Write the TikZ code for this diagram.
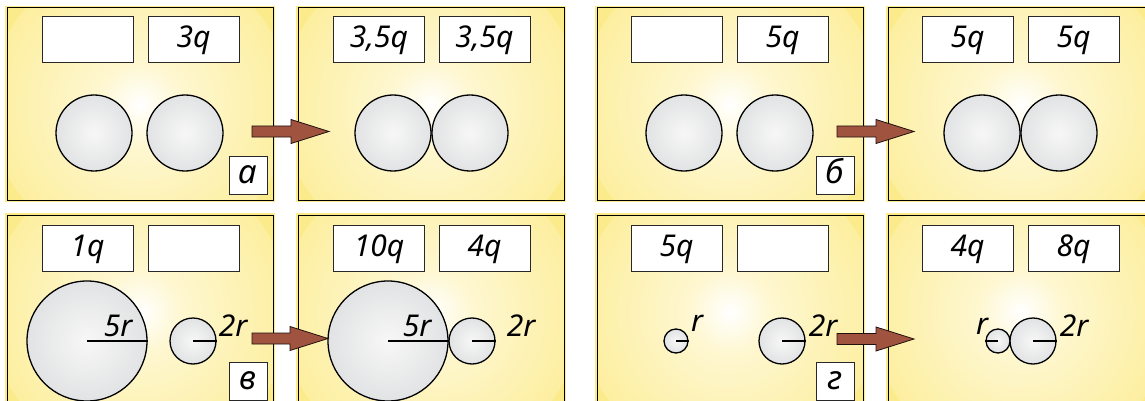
\documentclass[tikz,border=0pt]{standalone}
\usepackage{fontspec}
\setmainfont{Noto Sans}
\definecolor{panelyellow}{RGB}{252,235,138}
\colorlet{glowmid}{white!60!panelyellow}
\definecolor{ballin}{RGB}{247,247,247}
\definecolor{ballout}{RGB}{204,206,208}
\definecolor{arrowbrown}{RGB}{160,84,64}
\definecolor{boxline}{RGB}{40,40,40}
\pgfdeclareradialshading{ballshade}{\pgfpoint{0bp}{0bp}}{color(0bp)=(ballin); color(50bp)=(ballout)}
\pgfdeclareradialshading{glowshade}{\pgfpoint{0bp}{0bp}}{color(0bp)=(white); color(7bp)=(glowmid); color(33bp)=(panelyellow); color(50bp)=(panelyellow)}
\tikzset{
  panelborder/.style={draw=black, line width=1pt},
  qbox/.style={draw=boxline, fill=white, line width=1pt, minimum width=91pt, minimum height=46pt,
    inner sep=0pt, text height=22pt, text depth=6pt, font=\fontsize{30}{32}\selectfont\itshape},
  lbox/.style={draw=boxline, fill=white, line width=1pt, minimum width=38pt, minimum height=38pt,
    inner sep=0pt, text height=22pt, text depth=6pt, font=\fontsize{33}{35}\selectfont\itshape},
  ball/.style={circle, draw=black, line width=1.3pt, inner sep=0pt, shading=ballshade},
  rline/.style={draw=black, line width=1.1pt},
  rlabel/.style={anchor=base, inner sep=0pt, font=\fontsize{30}{32}\selectfont\itshape},
  blockarrow/.style={fill=arrowbrown, draw=black!80!arrowbrown, line width=0.8pt, line join=miter},
}
\newcommand{\panelbg}[3]{% left x, top y, bottom y
  \fill[panelyellow] ({#1-2},{#2-2}) rectangle ({#1+268},{#3+2});
  \begin{scope}
    \clip (#1,#2) rectangle ({#1+266},#3);
    \shade[shading=glowshade] ({#1+133},{#2+97}) circle (150);
  \end{scope}
  \draw[panelborder] (#1,#2) rectangle ({#1+266},#3);
}
\newcommand{\blockarr}[3]{% start x, tip x, centre y
  \draw[blockarrow] (#1,{#3-5.5}) -- ({#2-38},{#3-5.5}) -- ({#2-38},{#3-12}) -- (#2,#3)
    -- ({#2-38},{#3+12}) -- ({#2-38},{#3+5.5}) -- (#1,{#3+5.5}) -- cycle;
}
\begin{document}
\begin{tikzpicture}[x=1pt, y=-1pt]
\useasboundingbox (0,0) rectangle (1145,401);
% ---------- panels ----------
\panelbg{7}{8}{200}
\panelbg{298}{8}{200}
\panelbg{597}{8}{200}
\panelbg{888}{8}{200}
\panelbg{7}{215}{412}
\panelbg{298}{215}{412}
\panelbg{597}{215}{412}
\panelbg{888}{215}{412}
% ---------- charge boxes, top row ----------
\node[qbox] (a1q) at (87.5,40) {};
\node[qbox] (a2q) at (193.5,40) {3q};
\node[qbox] (b1q) at (379,40) {3,5q};
\node[qbox] (b2q) at (484.5,40) {3,5q};
\node[qbox] (c1q) at (676.5,40) {};
\node[qbox] (c2q) at (782.5,40) {5q};
\node[qbox] (d1q) at (967.5,40) {5q};
\node[qbox] (d2q) at (1073.5,40) {5q};
% ---------- charge boxes, bottom row ----------
\node[qbox] (e1q) at (87.5,248.5) {1q};
\node[qbox] (e2q) at (193.5,248.5) {};
\node[qbox] (f1q) at (379,248.5) {10q};
\node[qbox] (f2q) at (484.5,248.5) {4q};
\node[qbox] (g1q) at (676.5,248.5) {5q};
\node[qbox] (g2q) at (782.5,248.5) {};
\node[qbox] (h1q) at (967.5,248.5) {4q};
\node[qbox] (h2q) at (1073.5,248.5) {8q};
% ---------- letter boxes ----------
\node[lbox] (la) at (248,175) {а};
\node[lbox] (lb) at (835,175) {б};
\node[lbox] (lv) at (248,381) {в};
\node[lbox] (lg) at (835,381) {г};
% ---------- balls, top row ----------
\node[ball, minimum size=76pt] (a1) at (94,133) {};
\node[ball, minimum size=76pt] (a2) at (185,133) {};
\node[ball, minimum size=76pt] (b1) at (393,133) {};
\node[ball, minimum size=76pt] (b2) at (470,133) {};
\node[ball, minimum size=76pt] (c1) at (684,133) {};
\node[ball, minimum size=76pt] (c2) at (775,133) {};
\node[ball, minimum size=76pt] (d1) at (982,133) {};
\node[ball, minimum size=76pt] (d2) at (1059,133) {};
% ---------- balls, bottom row ----------
\node[ball, minimum size=120pt] (e1) at (87,341) {};
\node[ball, minimum size=46pt] (e2) at (193,341) {};
\node[ball, minimum size=120pt] (f1) at (388,341) {};
\node[ball, minimum size=46pt] (f2) at (472,341) {};
\node[ball, minimum size=24pt] (g1) at (676,341) {};
\node[ball, minimum size=46pt] (g2) at (782,341) {};
\node[ball, minimum size=24pt] (h1) at (998,341) {};
\node[ball, minimum size=46pt] (h2) at (1033,341) {};
% ---------- radii ----------
\draw[rline] (e1.center) -- (e1.east);
\draw[rline] (e2.center) -- (e2.east);
\draw[rline] (f1.center) -- (f1.east);
\draw[rline] (f2.center) -- (f2.east);
\draw[rline] (g1.center) -- (g1.east);
\draw[rline] (g2.center) -- (g2.east);
\draw[rline] (h1.west) -- (h1.center);
\draw[rline] (h2.center) -- (h2.east);
\node[rlabel] (e1r) at (118,336) {5r};
\node[rlabel] (e2r) at (233,336) {2r};
\node[rlabel] (f1r) at (417,336) {5r};
\node[rlabel] (f2r) at (521,336) {2r};
\node[rlabel] (g1r) at (697,331) {r};
\node[rlabel] (g2r) at (823,336) {2r};
\node[rlabel] (h1r) at (982,334) {r};
\node[rlabel] (h2r) at (1074,336) {2r};
% ---------- arrows ----------
\blockarr{252}{329}{131.5}
\blockarr{837}{914}{131.5}
\blockarr{252}{328}{338.5}
\blockarr{837}{914}{339}
\end{tikzpicture}
\end{document}
